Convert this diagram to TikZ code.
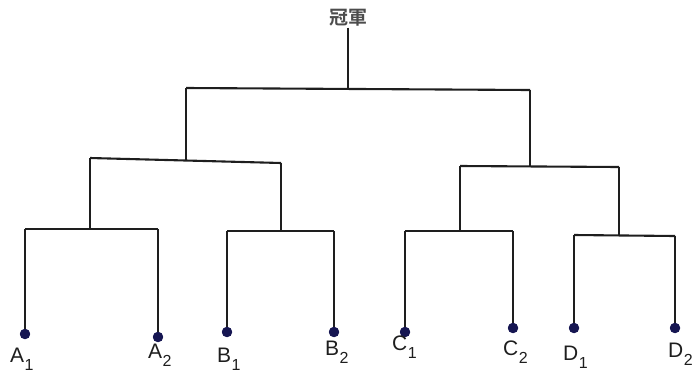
\documentclass[tikz,border=0pt]{standalone}
\usepackage{fontspec}
\setmainfont{Liberation Sans}
\newfontfamily\cjk{Noto Sans CJK TC}[BoldFont={Noto Sans CJK TC Bold}]
\definecolor{dotblue}{RGB}{22,22,82}
\definecolor{linegray}{RGB}{30,30,30}
\newcommand{\leaflab}[2]{#1\kern0.5pt\raisebox{-8pt}{\fontsize{16}{16}\selectfont #2}}
\begin{document}
\begin{tikzpicture}[x=1pt,y=-1pt,
  conn/.style={draw=linegray,line width=2.1pt,line join=miter},
  leafdot/.style={circle,fill=dotblue,inner sep=0pt,minimum size=10pt},
  leaflabel/.style={anchor=base west,inner sep=0pt,font=\fontsize{21}{21}\selectfont,text=linegray},
  rootlabel/.style={inner sep=1pt,font=\cjk\bfseries\fontsize{19}{19}\selectfont,text=black!70}]
\useasboundingbox (0,0) rectangle (692,383);
% root
\node[rootlabel] (root) at (348,18) {冠軍};
\coordinate (tm) at (348,89);
\coordinate (tl) at (186,88);
\coordinate (tr) at (530,90);
% left half
\coordinate (lm) at (186,160);
\coordinate (la) at (90,158);
\coordinate (lb) at (281,163);
\coordinate (am) at (90,229);
\coordinate (al) at (25,229);
\coordinate (ar) at (158,229);
\coordinate (bm) at (281,231);
\coordinate (bl) at (227,231);
\coordinate (br) at (334,231);
% right half
\coordinate (rm) at (530,166);
\coordinate (rc) at (460,166);
\coordinate (rd) at (619,167);
\coordinate (cm) at (460,231);
\coordinate (cl) at (405,231);
\coordinate (cr) at (513,231);
\coordinate (dm) at (619,235);
\coordinate (dl) at (574,235);
\coordinate (dr) at (675,236);
% leaves
\node[leafdot] (A1) at (25,334) {};
\node[leafdot] (A2) at (158,337) {};
\node[leafdot] (B1) at (227,332) {};
\node[leafdot] (B2) at (334,332) {};
\node[leafdot] (C1) at (405,332) {};
\node[leafdot] (C2) at (513,328) {};
\node[leafdot] (D1) at (574,328) {};
\node[leafdot] (D2) at (675,328) {};
% connectors
\draw[conn] (root.south) -- (tm);
\draw[conn] (tl) -- (tr);
\draw[conn] (tl) -- (lm);
\draw[conn] (tr) -- (rm);
\draw[conn] (la) -- (lb);
\draw[conn] (la) -- (am);
\draw[conn] (lb) -- (bm);
\draw[conn] (al) -- (ar);
\draw[conn] (bl) -- (br);
\draw[conn] (al) -- (A1.center);
\draw[conn] (ar) -- (A2.center);
\draw[conn] (bl) -- (B1.center);
\draw[conn] (br) -- (B2.center);
\draw[conn] (rc) -- (rd);
\draw[conn] (rc) -- (cm);
\draw[conn] (rd) -- (dm);
\draw[conn] (cl) -- (cr);
\draw[conn] (dl) -- (dr);
\draw[conn] (cl) -- (C1.center);
\draw[conn] (cr) -- (C2.center);
\draw[conn] (dl) -- (D1.center);
\draw[conn] (dr) -- (D2.center);
% redraw dots on top
\foreach \n in {A1,A2,B1,B2,C1,C2,D1,D2} \fill[dotblue] (\n) circle (5.2pt);
% labels
\node[leaflabel] (lA1) at (10,362) {\leaflab{A}{1}};
\node[leaflabel] (lA2) at (148,358) {\leaflab{A}{2}};
\node[leaflabel] (lB1) at (217,362) {\leaflab{B}{1}};
\node[leaflabel] (lB2) at (325,355) {\leaflab{B}{2}};
\node[leaflabel] (lC1) at (392,350) {\leaflab{C}{1}};
\node[leaflabel] (lC2) at (503,355) {\leaflab{C}{2}};
\node[leaflabel] (lD1) at (563,360) {\leaflab{D}{1}};
\node[leaflabel] (lD2) at (668,357) {\leaflab{D}{2}};
\end{tikzpicture}
\end{document}
